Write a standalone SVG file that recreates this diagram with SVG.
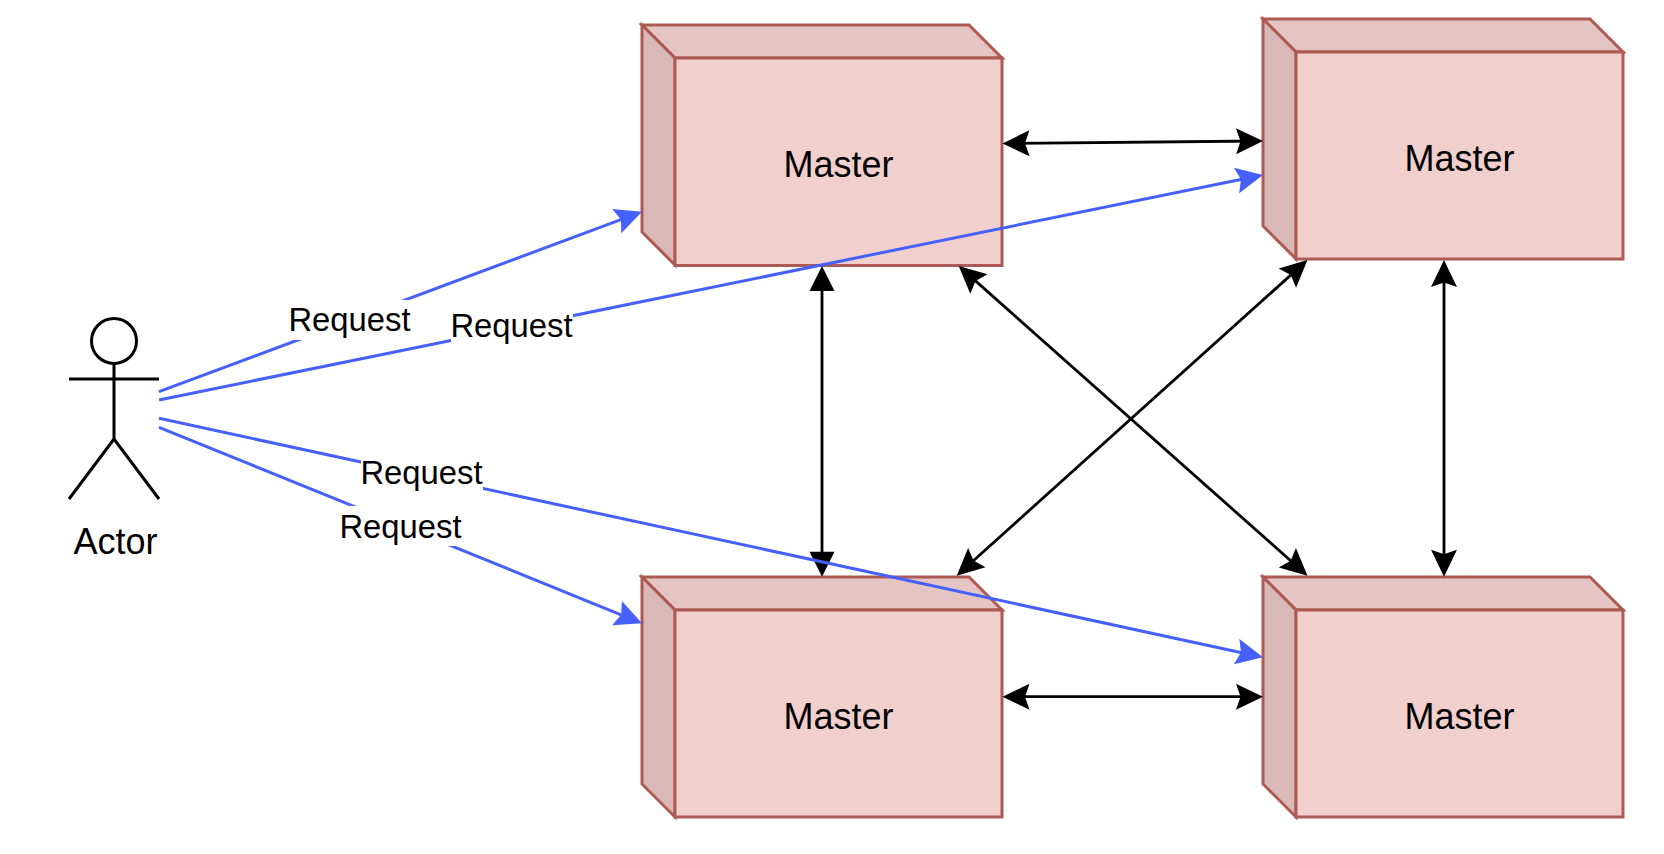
<svg xmlns="http://www.w3.org/2000/svg" width="1664" height="854" viewBox="0 0 1664 854">
<defs>
<marker id="ab" markerUnits="userSpaceOnUse" markerWidth="28" markerHeight="26" refX="23" refY="13" orient="auto-start-reverse" overflow="visible"><path d="M27,13 L0,0 L4.500,13 L0,26 Z" fill="#000"/></marker>
<marker id="af" markerUnits="userSpaceOnUse" markerWidth="28" markerHeight="26" refX="21" refY="13" orient="auto-start-reverse" overflow="visible"><path d="M25,13 L0,0.500 L0,25.500 Z" fill="#000"/></marker>
<marker id="ar" markerUnits="userSpaceOnUse" markerWidth="28" markerHeight="26" refX="23" refY="13" orient="auto" overflow="visible"><path d="M27,13 L0,0 L4.500,13 L0,26 Z" fill="#4560fb"/></marker>
</defs>
<style>
.f{fill:#f1cfcd;stroke:#ae5a54;stroke-width:3;stroke-linejoin:miter}
.t{fill:#e5c5c4;stroke:#ae5a54;stroke-width:3}
.s{fill:#d9b9b8;stroke:#ae5a54;stroke-width:3}
text{font-family:"Liberation Sans",Arial,sans-serif;fill:#000;text-anchor:middle}
.m{font-size:36px}
.r{font-size:32.800px}
.b{fill:none;stroke:#000;stroke-width:2.800;marker-start:url(#ab);marker-end:url(#ab)}
.v{fill:none;stroke:#000;stroke-width:2.800;marker-start:url(#af);marker-end:url(#af)}
.q{fill:none;stroke:#4560fb;stroke-width:3;marker-end:url(#ar)}
.st{fill:none;stroke:#000;stroke-width:3}
</style>
<g id="node-master-1"><polygon class="t" points="642,25 969,25 1002,58 675,58"/><polygon class="s" points="642,25 675,58 675,265 642,232"/><rect class="f" x="675" y="58" width="327" height="207.500"/><text class="m" x="838.500" y="177">Master</text></g>
<g id="node-master-2"><polygon class="t" points="1263,19 1590,19 1623,52 1296,52"/><polygon class="s" points="1263,19 1296,52 1296,259 1263,226"/><rect class="f" x="1296" y="52" width="327" height="207"/><text class="m" x="1459.500" y="171">Master</text></g>
<g id="node-master-3"><polygon class="t" points="642,577 969,577 1002,610 675,610"/><polygon class="s" points="642,577 675,610 675,817 642,784"/><rect class="f" x="675" y="610" width="327" height="207"/><text class="m" x="838.500" y="729">Master</text></g>
<g id="node-master-4"><polygon class="t" points="1263,577 1590,577 1623,610 1296,610"/><polygon class="s" points="1263,577 1296,610 1296,817 1263,784"/><rect class="f" x="1296" y="610" width="327" height="207"/><text class="m" x="1459.500" y="729">Master</text></g>
<g id="node-actor"><ellipse class="st" cx="114" cy="341" rx="22.500" ry="22.500"/><path class="st" d="M114,363.500 V439 M69,379 H159 M69,499 L114,439 L159,499"/><text class="m" x="115.500" y="554">Actor</text></g>
<g id="connectors">
<path class="b" d="M1006.500,143.500 L1259,141"/>
<path class="b" d="M1006.500,696.700 L1259,696.700"/>
<path class="v" d="M822,270 L822,572.700"/>
<path class="b" d="M1444,264 L1444,572.700"/>
<path class="b" d="M961.700,268.650 L1304.500,573"/>
<path class="b" d="M1304.500,262.700 L959.700,573"/>
<path class="q" d="M159,391.700 L638.300,213.100"/>
<path class="q" d="M159,400 L1259.100,175.800"/>
<path class="q" d="M159,418.300 L1259.100,656.500"/>
<path class="q" d="M159,427.300 L638.300,621.800"/>
</g>
<g id="labels">
<rect x="289" y="300" width="122" height="40" fill="#fff"/><text class="r" x="349.500" y="331">Request</text>
<rect x="451" y="306" width="122" height="40" fill="#fff"/><text class="r" x="511.500" y="337">Request</text>
<rect x="361" y="452" width="122" height="40" fill="#fff"/><text class="r" x="421.500" y="484">Request</text>
<rect x="340" y="506" width="122" height="40" fill="#fff"/><text class="r" x="400.500" y="538">Request</text>
</g>
</svg>
